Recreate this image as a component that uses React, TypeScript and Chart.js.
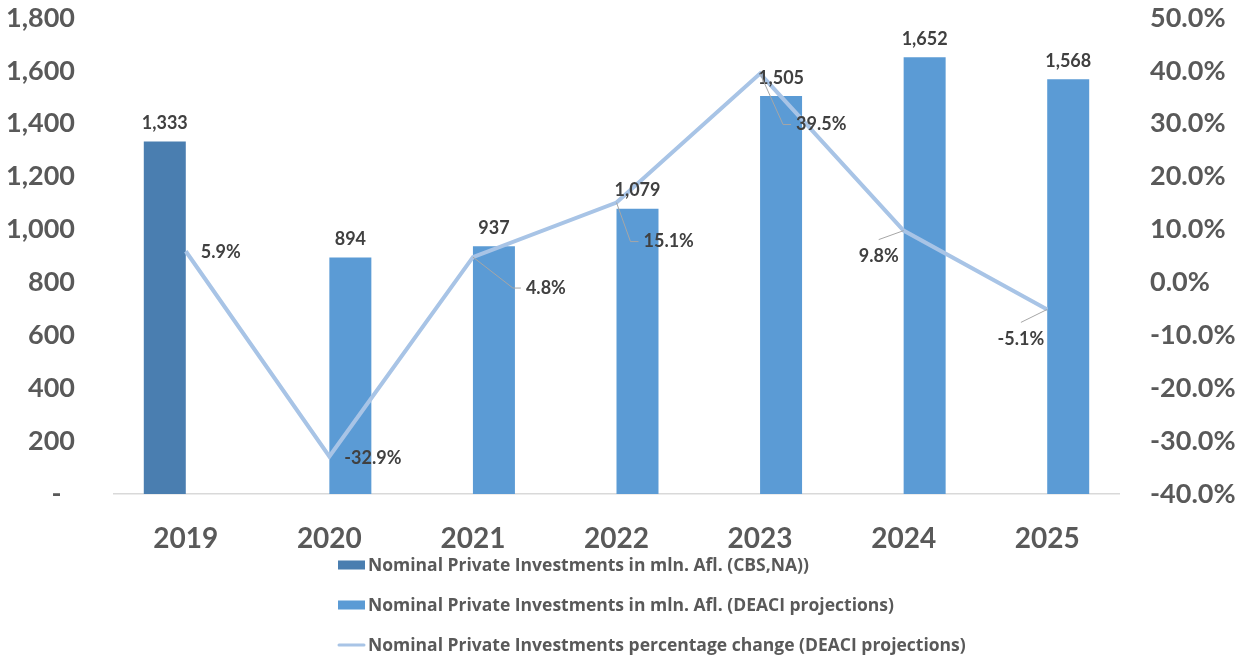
import React, { useEffect, useRef } from "react";
import { Chart, registerables } from "chart.js";

Chart.register(...registerables);

const categories = ["2019", "2020", "2021", "2022", "2023", "2024", "2025"];
const cbsValues = [1333, null, null, null, null, null, null];
const deaciValues = [null, 894, 937, 1079, 1505, 1652, 1568];
const pctChange = [5.9, -32.9, 4.8, 15.1, 39.5, 9.8, -5.1];

const cbsLabel = "Nominal Private Investments in mln. Afl. (CBS,NA))";
const deaciLabel = "Nominal Private Investments in mln. Afl. (DEACI projections)";
const pctLabel = "Nominal Private Investments percentage change (DEACI projections)";

const cbsColor = "#4A7EB0";
const deaciColor = "#5B9BD5";
const lineColor = "#A8C4E6";
const FONT = "Lato";

// label placement relative to the line point (style, not data)
const pctLabelPlacement = [
  { dx: 15, dy: 1, align: "left", leader: false },
  { dx: 15, dy: 2, align: "left", leader: false },
  { dx: 53, dy: 31, align: "left", leader: true },
  { dx: 27, dy: 39, align: "left", leader: true },
  { dx: 36, dy: 51, align: "left", leader: true },
  { dx: -5, dy: 26, align: "right", leader: true },
  { dx: -3, dy: 30, align: "right", leader: true },
];

const labelsPlugin = {
  id: "customLabels",
  afterDatasetsDraw(chart: any) {
    const ctx = chart.ctx;
    ctx.save();
    ctx.font = `bold 18px ${FONT}`;
    ctx.fillStyle = "#404040";
    ctx.textBaseline = "middle";
    [1, 2].forEach((di) => {
      const meta = chart.getDatasetMeta(di);
      const ds = chart.data.datasets[di];
      meta.data.forEach((el: any, i: number) => {
        const v = ds.data[i];
        if (v === null || v === undefined) return;
        ctx.textAlign = "center";
        ctx.fillText(Number(v).toLocaleString("en-US"), el.x, el.y - 18);
      });
    });
    const lmeta = chart.getDatasetMeta(0);
    lmeta.data.forEach((el: any, i: number) => {
      const p = pctLabelPlacement[i];
      const text = pctChange[i].toFixed(1) + "%";
      const w = ctx.measureText(text).width;
      const tx = el.x + p.dx;
      const ty = el.y + p.dy;
      if (p.leader) {
        ctx.strokeStyle = "#A6A6A6";
        ctx.lineWidth = 1;
        ctx.beginPath();
        ctx.moveTo(el.x, el.y);
        if (p.align === "left") {
          ctx.lineTo(tx - 13, ty);
          ctx.lineTo(tx - 5, ty);
        } else {
          ctx.lineTo(tx - w / 2, ty - 17);
        }
        ctx.stroke();
      }
      ctx.fillStyle = "#404040";
      ctx.textAlign = p.align;
      ctx.fillText(text, tx, ty);
    });
    ctx.restore();
  },
};

const legendPlugin = {
  id: "customLegend",
  afterDraw(chart: any) {
    const ctx = chart.ctx;
    ctx.save();
    const x0 = 338;
    const rows = [
      { type: "box", color: cbsColor, label: cbsLabel, y: 565 },
      { type: "box", color: deaciColor, label: deaciLabel, y: 605 },
      { type: "line", color: lineColor, label: pctLabel, y: 645 },
    ];
    ctx.font = `bold 17.5px "Open Sans"`;
    ctx.textBaseline = "middle";
    ctx.textAlign = "left";
    rows.forEach((r) => {
      if (r.type === "box") {
        ctx.fillStyle = r.color;
        ctx.fillRect(x0, r.y - 4.5, 27, 9);
      } else {
        ctx.strokeStyle = r.color;
        ctx.lineWidth = 3;
        ctx.lineCap = "round";
        ctx.beginPath();
        ctx.moveTo(x0 + 1, r.y);
        ctx.lineTo(x0 + 26, r.y);
        ctx.stroke();
      }
      ctx.fillStyle = "#595959";
      ctx.fillText(r.label, x0 + 30, r.y + 1);
    });
    ctx.restore();
  },
};

export default function App() {
  const ref = useRef<HTMLCanvasElement | null>(null);
  useEffect(() => {
    document.body.style.margin = "0";
    const canvas = ref.current!;
    const chart = new Chart(canvas, {
      type: "bar",
      data: {
        labels: categories,
        datasets: [
          {
            type: "line",
            label: pctLabel,
            data: pctChange,
            yAxisID: "y1",
            borderColor: lineColor,
            backgroundColor: lineColor,
            borderWidth: 4,
            pointRadius: 0,
            tension: 0,
            order: 0,
          } as any,
          {
            type: "bar",
            label: cbsLabel,
            data: cbsValues,
            yAxisID: "y",
            backgroundColor: cbsColor,
            categoryPercentage: 0.585,
            barPercentage: 1,
            order: 1,
          },
          {
            type: "bar",
            label: deaciLabel,
            data: deaciValues,
            yAxisID: "y",
            backgroundColor: deaciColor,
            categoryPercentage: 0.585,
            barPercentage: 1,
            order: 2,
          },
        ],
      },
      options: {
        animation: false,
        responsive: false,
        layout: { padding: { top: 18, bottom: 90, left: 0, right: 0 } },
        plugins: { legend: { display: false }, tooltip: { enabled: false } },
        scales: {
          x: {
            grid: { display: false, drawTicks: false },
            border: { display: true, color: "#D9D9D9", width: 1.5 },
            ticks: {
              color: "#595959",
              font: { family: FONT, size: 28, weight: "bold" },
              padding: 28,
              maxRotation: 0,
            },
            afterFit(scale: any) {
              scale.height = 72;
            },
          },
          y: {
            position: "left",
            min: 0,
            max: 1800,
            grid: { display: false, drawTicks: true, tickLength: 39 },
            border: { display: false },
            ticks: {
              stepSize: 200,
              color: "#595959",
              font: { family: FONT, size: 27, weight: "bold" },
              padding: 0,
              callback: (v: any) => (Number(v) === 0 ? "-\u2002" : Number(v).toLocaleString("en-US")),
            },
            afterFit(scale: any) {
              scale.width = 114;
            },
          },
          y1: {
            position: "right",
            min: -40,
            max: 50,
            grid: { display: false, drawTicks: true, tickLength: 31 },
            border: { display: false },
            ticks: {
              stepSize: 10,
              color: "#595959",
              font: { family: FONT, size: 27, weight: "bold" },
              padding: 0,
              callback: (v: any) => Number(v).toFixed(1) + "%",
            },
            afterFit(scale: any) {
              scale.width = 117;
            },
          },
        },
      },
      plugins: [labelsPlugin, legendPlugin],
    });
    return () => chart.destroy();
  }, []);
  return (
    <div style={{ width: 1236, height: 656 }}>
      <canvas ref={ref} width={1236} height={656} />
    </div>
  );
}
